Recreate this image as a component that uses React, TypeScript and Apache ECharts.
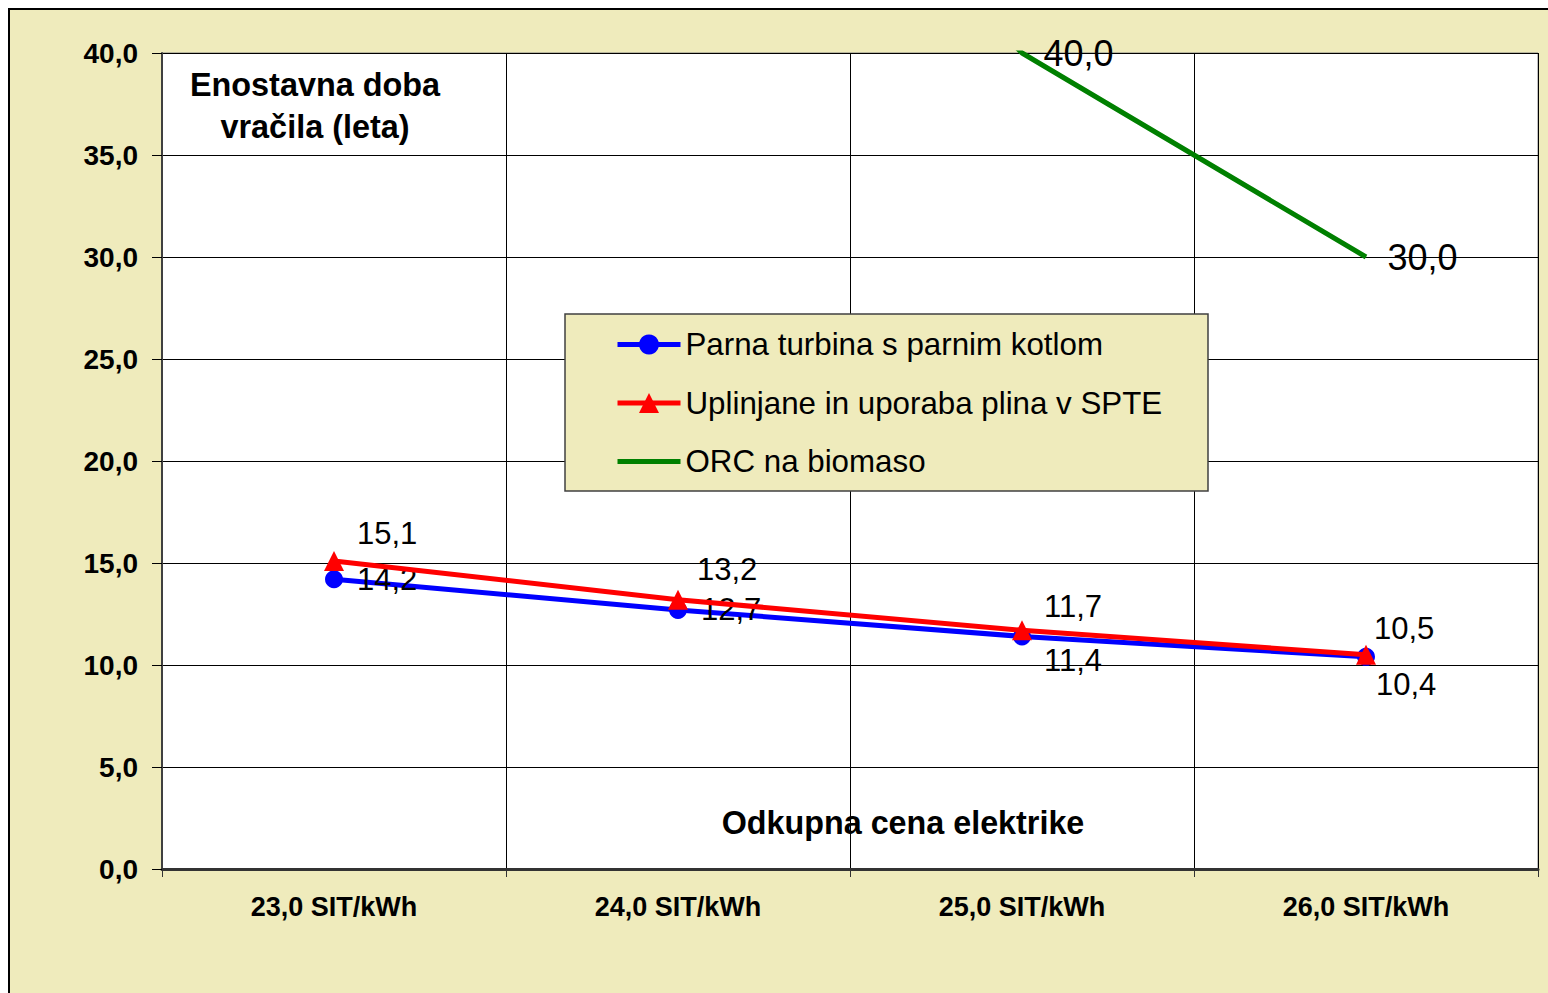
import React, { useEffect, useRef } from 'react';
import * as echarts from 'echarts';

// ---- data ----
const categories = ['23,0 SIT/kWh', '24,0 SIT/kWh', '25,0 SIT/kWh', '26,0 SIT/kWh'];
const seriesNames = ['Parna turbina s parnim kotlom', 'Uplinjane in uporaba plina v SPTE', 'ORC na biomaso'];
const parnaTurbina = [14.2, 12.7, 11.4, 10.4];
const uplinjanje = [15.1, 13.2, 11.7, 10.5];
const orcBiomasa: (number | null)[] = [null, 57, 40.0, 30.0];
const yMin = 0;
const yMax = 40;
const yInterval = 5;
const yTitle = 'Enostavna doba\nvračila (leta)';
const xTitle = 'Odkupna cena elektrike';

// ---- label placement (style) ----
const blueLabelOffsets = [[14, 0], [14, 0], [13, 24], [1, 28]];
const redLabelOffsets = [[13, -27], [9, -30], [12, -24], [-2, -26]];

const FONT = "'Liberation Sans', Arial, Helvetica, sans-serif";
const BEIGE = '#EFEBBC';

const fmt = (v: number) => v.toFixed(1).replace('.', ',');

export default function App() {
  const ref = useRef<HTMLDivElement>(null);

  useEffect(() => {
    if (!ref.current) return;
    const chart = echarts.init(ref.current, undefined, { renderer: 'svg' });

    const labelBase = {
      show: true,
      position: 'right',
      distance: 0,
      fontFamily: FONT,
      fontSize: 31,
      color: '#000',
      textBorderWidth: 0,
      formatter: (p: any) => fmt(p.value),
    };

    const option: any = {
      animation: false,
      backgroundColor: '#fff',
      graphic: [
        {
          type: 'rect',
          z: -1,
          silent: true,
          shape: { x: 9, y: 9, width: 1600, height: 1100 },
          style: { fill: BEIGE, stroke: '#000', lineWidth: 2 },
        },
        {
          type: 'rect',
          z: 3,
          silent: true,
          shape: { x: 565, y: 314, width: 643, height: 177 },
          style: { fill: BEIGE, stroke: '#404040', lineWidth: 1.5 },
        },
        {
          type: 'text',
          z: 3,
          silent: true,
          x: 315,
          y: 106,
          style: {
            text: yTitle,
            fontFamily: FONT,
            fontWeight: 'bold',
            fontSize: 32.4,
            lineHeight: 42,
            fill: '#000',
            align: 'center',
            verticalAlign: 'middle',
          },
        },
        {
          type: 'text',
          z: 3,
          silent: true,
          x: 903,
          y: 823,
          style: {
            text: xTitle,
            fontFamily: FONT,
            fontWeight: 'bold',
            fontSize: 32.3,
            fill: '#000',
            align: 'center',
            verticalAlign: 'middle',
          },
        },
      ],
      grid: {
        left: 162,
        top: 53,
        right: 10,
        bottom: 124,
        show: true,
        backgroundColor: '#fff',
        borderColor: '#808080',
        borderWidth: 1,
      },
      legend: {
        orient: 'vertical',
        left: 615,
        top: 329,
        itemWidth: 63,
        itemHeight: 25,
        itemGap: 27.5,
        padding: 0,
        z: 4,
        selectedMode: false,
        lineStyle: { width: 5 },
        data: [
          seriesNames[0],
          seriesNames[1],
          { name: seriesNames[2], itemStyle: { opacity: 0 } },
        ],
        textStyle: { fontFamily: FONT, fontSize: 31.3, lineHeight: 30, color: '#000' },
      },
      xAxis: {
        type: 'category',
        data: categories,
        boundaryGap: true,
        axisLine: { lineStyle: { color: '#333', width: 3 } },
        axisTick: { show: true, length: 8, lineStyle: { color: '#333', width: 1 } },
        axisLabel: {
          margin: 24,
          fontFamily: FONT,
          fontWeight: 'bold',
          fontSize: 27,
          color: '#000',
        },
        splitLine: { show: true, lineStyle: { color: '#000', width: 1 } },
      },
      yAxis: {
        type: 'value',
        min: yMin,
        max: yMax,
        interval: yInterval,
        axisLine: { show: true, lineStyle: { color: '#404040', width: 2 } },
        axisTick: { show: true, length: 10, lineStyle: { color: '#000', width: 1 } },
        axisLabel: {
          margin: 24,
          fontFamily: FONT,
          fontWeight: 'bold',
          fontSize: 28,
          color: '#000',
          formatter: (v: number) => fmt(v),
        },
        splitLine: { show: true, lineStyle: { color: '#000', width: 1 } },
      },
      series: [
        {
          name: seriesNames[0],
          type: 'line',
          data: parnaTurbina.map((v, i) => ({
            value: v,
            label: { offset: blueLabelOffsets[i] },
          })),
          symbol: 'circle',
          symbolSize: 18,
          lineStyle: { color: '#0000FF', width: 5 },
          itemStyle: { color: '#0000FF' },
          label: labelBase,
          z: 2,
        },
        {
          name: seriesNames[1],
          type: 'line',
          data: uplinjanje.map((v, i) => ({
            value: v,
            label: { offset: redLabelOffsets[i] },
          })),
          symbol: 'triangle',
          symbolSize: 20,
          lineStyle: { color: '#FF0000', width: 5 },
          itemStyle: { color: '#FF0000' },
          label: labelBase,
          z: 3,
        },
        {
          name: seriesNames[2],
          type: 'line',
          data: orcBiomasa,
          symbol: 'none',
          lineStyle: { color: '#008000', width: 5 },
          itemStyle: { color: '#008000' },
          z: 2,
        },
        {
          name: 'orcLabels',
          type: 'scatter',
          data: orcBiomasa.map((v) => (v !== null && v <= yMax ? v : null)),
          symbolSize: 1,
          itemStyle: { color: '#008000', opacity: 1 },
          label: { ...labelBase, fontSize: 36, distance: 21 },
          emphasis: { disabled: true },
          z: 4,
        },
      ],
    };

    chart.setOption(option);
    return () => chart.dispose();
  }, []);

  return (
    <div
      ref={ref}
      style={{ position: 'fixed', left: 0, top: 0, width: 1548, height: 993 }}
    />
  );
}
